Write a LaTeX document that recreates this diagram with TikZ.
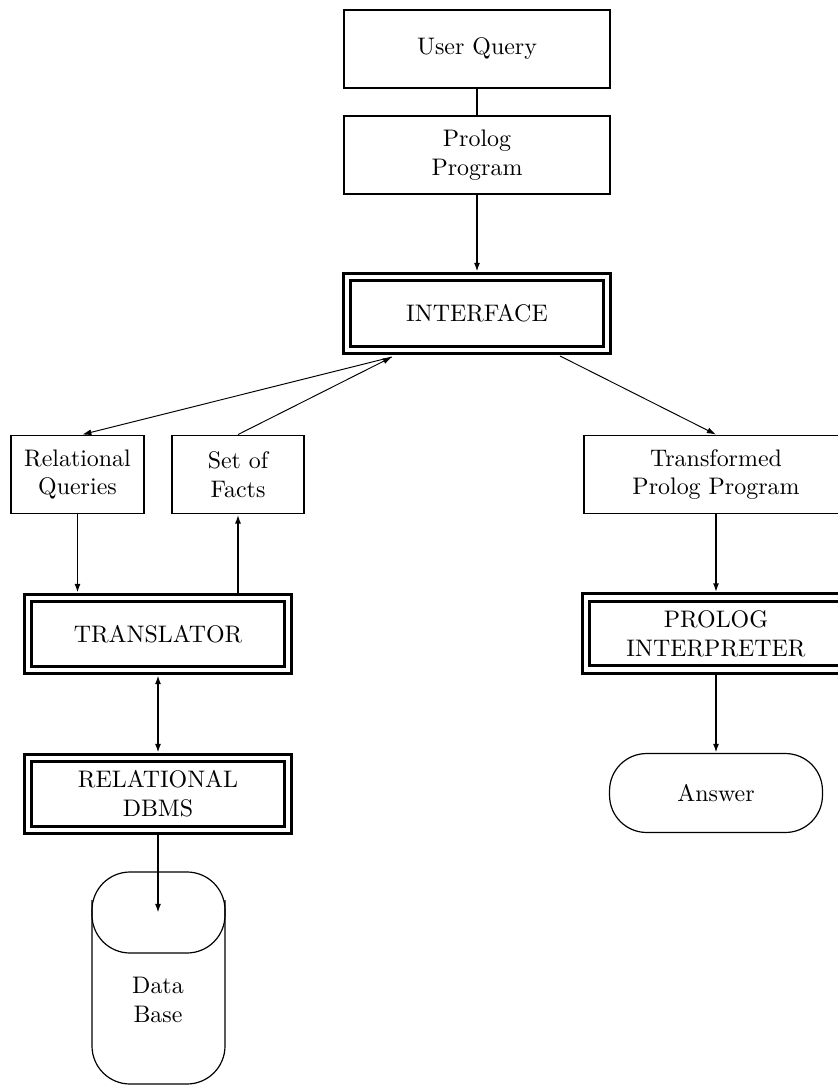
\documentclass[tikz,border=0pt]{standalone}
\usepackage{amsmath}
\usepackage{tikz}
\usetikzlibrary{arrows.meta}
\begin{document}
\begin{tikzpicture}[x=0.418pt,y=-0.418pt,
    box/.style={draw,line width=0.8pt,align=center,inner sep=1pt,minimum height=32.6pt},
    dbox/.style={draw,double,line width=1.17pt,double distance=1.9pt,align=center,inner sep=1pt,outer sep=2.1pt,minimum width=108.7pt,minimum height=30.1pt},
    arr/.style={-{Latex[length=3.8pt,width=2.5pt]},line width=0.8pt},
    darr/.style={{Latex[length=3.8pt,width=2.5pt]}-{Latex[length=3.8pt,width=2.5pt]},line width=0.8pt},
    thinarr/.style={-{Latex[length=3.8pt,width=2.5pt]},line width=0.4pt}]
                \useasboundingbox (0,0) rectangle (838,1085);
                \clip (0,0) rectangle (838,1085);
                \node[box,minimum width=111.2pt] (uq) at (477,49) {User Query};
                \node[box,minimum width=111.2pt] (pp) at (477,155) {Prolog\\Program};
                \node[dbox,minimum height=30.5pt] (intf) at (477,313.5) {INTERFACE};
                \node[box,minimum width=55.6pt] (rq) at (77.5,474.5) {Relational\\Queries};
                \node[box,minimum width=55.2pt] (sf) at (238,474.5) {Set of\\Facts};
                \node[box,minimum width=110.4pt] (tpp) at (716,474.5) {Transformed\\Prolog Program};
                \node[dbox] (tr) at (158,634) {TRANSLATOR};
                \node[dbox] (dbms) at (158,794) {RELATIONAL\\DBMS};
                \node[dbox] (pi) at (716,633.5) {PROLOG\\INTERPRETER};
                \node[draw,line width=0.5pt,rounded corners=15.5pt,minimum width=89pt,minimum height=33pt] (ans) at (716,793) {Answer};
                \draw[line width=0.5pt,rounded corners=15.9pt] (92,872) rectangle (225,1084);
                \draw[line width=0.5pt,rounded corners=15.9pt] (92,900) -- (92,953) -- (225,953) -- (225,900);
                \node[align=center] (db) at (158,1000) {Data\\Base};
                \coordinate (il) at (392,357);
                \coordinate (ir) at (560,356);
                \coordinate (dbtop) at (158,913);
                \draw[line width=0.8pt] (uq) -- (pp);
                \draw[arr] (pp) -- (intf);
                \draw[thinarr] (il) -- ([xshift=2pt]rq.north);
                \draw[thinarr] (sf.north) -- (il);
                \draw[thinarr] (ir) -- (tpp.north);
                \draw[arr] (rq) -- (rq |- tr.north);
                \draw[arr] (sf.south |- tr.north) -- (sf);
                \draw[darr] (tr) -- (dbms);
                \draw[arr] (dbms) -- (dbtop);
                \draw[arr] (tpp) -- (pi);
                \draw[arr] (pi) -- (ans);
            \end{tikzpicture}
\end{document}
